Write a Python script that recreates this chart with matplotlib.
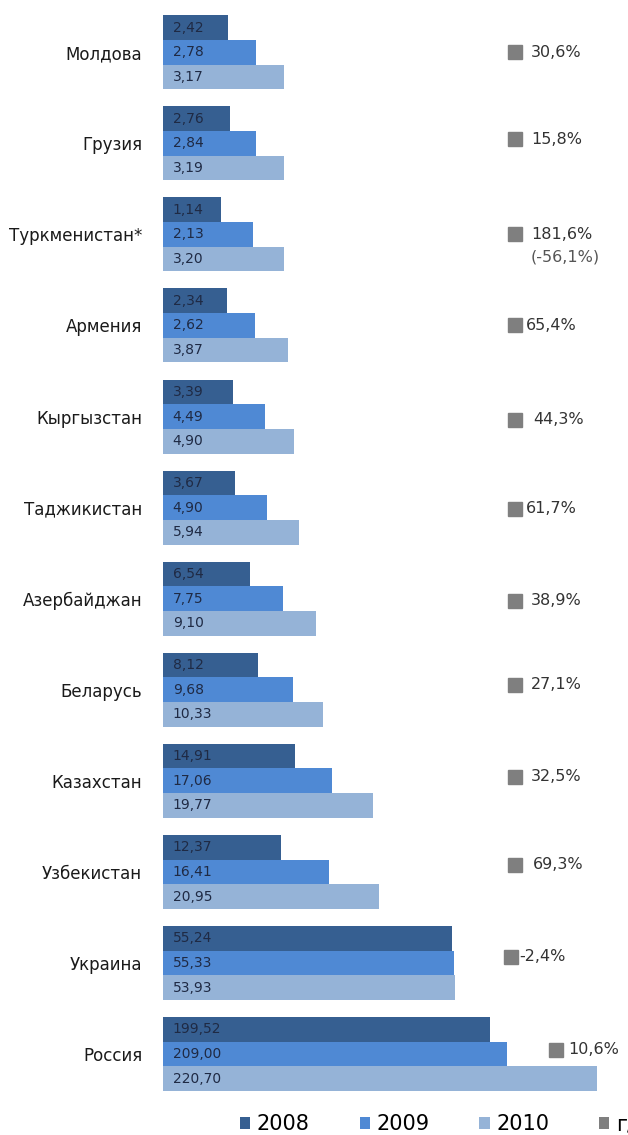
import numpy as np
import matplotlib.pyplot as plt
import matplotlib.transforms as mtransforms
from matplotlib.patches import Patch

plt.rcParams['font.family'] = ['DejaVu Sans']

countries = ['Молдова', 'Грузия', 'Туркменистан*', 'Армения', 'Кыргызстан',
             'Таджикистан', 'Азербайджан', 'Беларусь', 'Казахстан',
             'Узбекистан', 'Украина', 'Россия']
years = ['2008', '2009', '2010']
v2008 = [2.42, 2.76, 1.14, 2.34, 3.39, 3.67, 6.54, 8.12, 14.91, 12.37, 55.24, 199.52]
v2009 = [2.78, 2.84, 2.13, 2.62, 4.49, 4.90, 7.75, 9.68, 17.06, 16.41, 55.33, 209.00]
v2010 = [3.17, 3.19, 3.20, 3.87, 4.90, 5.94, 9.10, 10.33, 19.77, 20.95, 53.93, 220.70]
growth = ['30,6%', '15,8%', '181,6%', '65,4%', '44,3%', '61,7%', '38,9%',
          '27,1%', '32,5%', '69,3%', '-2,4%', '10,6%']
note_turkm = '(-56,1%)'

colors = ['#365F91', '#4F89D4', '#95B3D7']
square_col = '#7F7F7F'
label_col = '#1F2A44'

# the original axis is broken: bars start with a base length per series
# and the long bars are squeezed
bar_base = [9.7, 14.6, 19.5]
knots_data = [0, 42, 65, 73.5, 209.2, 223.6, 240.2, 300]
knots_disp = [0, 42, 54, 54.6, 61.1, 64.3, 81.1, 100]


def fwd(x):
    return np.interp(x, knots_data, knots_disp)


def inv(x):
    return np.interp(x, knots_disp, knots_data)


W, H = 628, 1135
fig = plt.figure(figsize=(W / 100, H / 100), dpi=100)
ax = fig.add_axes([163 / W, 0, 465 / W, 1])
ax.set_xscale('function', functions=(fwd, inv))
ax.set_xlim(0, inv(465 / 5.35))

gap = 91.06
h = 24.67 / gap
top = 52.3 / gap
ax.set_ylim((H - 52.3) / gap, -top)

pos = np.arange(len(countries))
for j, vals in enumerate([v2008, v2009, v2010]):
    y = pos + (j - 1) * h
    ax.barh(y, np.array(vals) + bar_base[j], height=h, left=0,
            color=colors[j], edgecolor='none')
    for yy, v in zip(y, vals):
        ax.annotate(f'{v:.2f}'.replace('.', ','), xy=(0, yy), xytext=(7, 0),
                    textcoords='offset points', va='center', ha='left',
                    fontsize=10, color=label_col)

ax.set_yticks(pos)
ax.set_yticklabels(countries, fontsize=12, color='#1A1A1A')
ax.tick_params(axis='y', length=0, pad=15)
ax.set_xticks([])
for s in ax.spines.values():
    s.set_visible(False)

# growth labels at the right: square + text, pixel offsets per row
sq_x = [507, 507, 507, 507, 507, 507, 507, 507, 507, 507, 503, 548]
tx_x = [531, 531, 531, 526, 533, 526, 531, 531, 531, 533, 519, 568]
dy = [0, -4, 0, 0, 3, 1, 2, -5, -4, -7, -6, -4]
trans = mtransforms.blended_transform_factory(fig.transFigure, ax.transData)
for i, g in enumerate(growth):
    y = i + dy[i] / gap
    ax.plot([(sq_x[i] + 7.5) / W], [y], marker='s', ms=10.5, color=square_col,
            transform=trans, clip_on=False)
    ax.text(tx_x[i] / W, y, g, transform=trans, fontsize=11.5, color='#333333',
            va='center', ha='left')
ax.text(531 / W, 2 + 23 / gap, note_turkm, transform=trans, fontsize=11.5,
        color='#555555', va='center', ha='left')

handles = [Patch(facecolor=c, edgecolor='none') for c in colors]
handles.append(Patch(facecolor=square_col, edgecolor='none'))
fig.legend(handles, years + ['г/г'], ncol=4, loc='center left',
           bbox_to_anchor=(240 / W, 1 - 1124 / H), frameon=False,
           fontsize=15, handlelength=0.5, handleheight=0.5,
           handletextpad=0.3, columnspacing=2.4, borderpad=0,
           borderaxespad=0)

fig.savefig('out.png', dpi=100)
